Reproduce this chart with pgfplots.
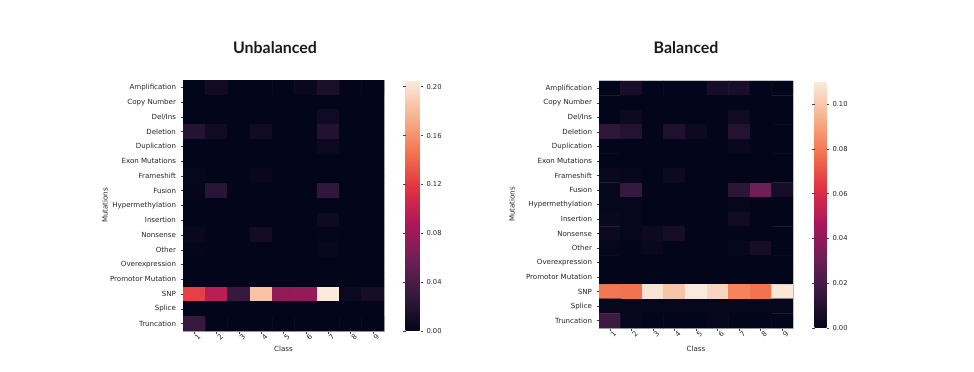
\documentclass[border=0pt]{standalone}
\usepackage{fontspec}
\setmainfont{DejaVu Sans}
\newfontfamily\titlefont{Lato}
\usepackage{pgfplots}
\pgfplotsset{compat=1.18}

\pgfplotsset{
  colormap={rocket}{rgb255=(3,5,26) rgb255=(53,25,62) rgb255=(112,31,87) rgb255=(173,23,89) rgb255=(225,51,66) rgb255=(243,118,81) rgb255=(246,180,143) rgb255=(250,235,221)},
  hm/.style={
    scale only axis,
    anchor=south west,
    y dir=reverse,
    xmin=-0.5, xmax=8.5, ymin=-0.5, ymax=16.5,
    xtick={0,...,8}, xticklabels={1,2,3,4,5,6,7,8,9},
    ytick={0,...,16},
    yticklabels={Amplification,Copy Number,Del/Ins,Deletion,Duplication,Exon Mutations,Frameshift,Fusion,Hypermethylation,Insertion,Nonsense,Other,Overexpression,Promotor Mutation,SNP,Splice,Truncation},
    tick align=outside, major tick length=2.5bp,
    tick style={black!75, line width=0.5bp},
    xtick pos=bottom, ytick pos=left,
    axis line style={black!25, line width=0.6bp},
    ticklabel style={font=\fontsize{7.1}{8}\selectfont, text=black!85},
    yticklabel style={xshift=-1bp},
    xticklabel style={rotate=45, anchor=center, yshift=-5bp},
    label style={font=\fontsize{7.1}{8}\selectfont, text=black!85},
    xlabel={Class}, ylabel={Mutations},
    colormap name=rocket,
    point meta min=0,
  },
}

\begin{document}
\begin{tikzpicture}
\path[use as bounding box] (0,0) rectangle (974bp,372bp);

% Unbalanced
\begin{axis}[hm,
  at={(183bp,41bp)}, width=201bp, height=251bp,
  point meta max=0.2055,
  xlabel style={at={(axis description cs:0.5,0)}, anchor=center, yshift=-18bp},
  ylabel style={at={(axis description cs:-0.388,0.5)}, anchor=center, rotate=0},
  colorbar,
  colorbar style={
    at={(parent axis.north east)}, anchor=north west, xshift=13bp,
    scale only axis, width=15bp,
    ytick={0,0.04,0.08,0.12,0.16,0.20},
    yticklabels={0.00,0.04,0.08,0.12,0.16,0.20},
    axis line style={draw=none},
    tick align=outside, major tick length=2.5bp,
    tick style={black!75, line width=0.5bp},
    ticklabel style={font=\fontsize{6.8}{8}\selectfont, text=black!85},
  },
]
\addplot[matrix plot*, mesh/cols=9, point meta=explicit] table[row sep=\\, meta=z] {
x y z\\
0 0 0\\ 1 0 0.008\\ 2 0 0\\ 3 0 0\\ 4 0 0\\ 5 0 0.004\\ 6 0 0.014\\ 7 0 0\\ 8 0 0\\
0 1 0\\ 1 1 0\\ 2 1 0\\ 3 1 0\\ 4 1 0\\ 5 1 0\\ 6 1 0\\ 7 1 0\\ 8 1 0\\
0 2 0\\ 1 2 0\\ 2 2 0\\ 3 2 0\\ 4 2 0\\ 5 2 0\\ 6 2 0.008\\ 7 2 0\\ 8 2 0\\
0 3 0.020\\ 1 3 0.009\\ 2 3 0\\ 3 3 0.009\\ 4 3 0\\ 5 3 0\\ 6 3 0.018\\ 7 3 0\\ 8 3 0\\
0 4 0\\ 1 4 0\\ 2 4 0\\ 3 4 0\\ 4 4 0\\ 5 4 0\\ 6 4 0.005\\ 7 4 0\\ 8 4 0\\
0 5 0\\ 1 5 0\\ 2 5 0\\ 3 5 0\\ 4 5 0\\ 5 5 0\\ 6 5 0\\ 7 5 0\\ 8 5 0\\
0 6 0.002\\ 1 6 0\\ 2 6 0\\ 3 6 0.003\\ 4 6 0\\ 5 6 0\\ 6 6 0\\ 7 6 0\\ 8 6 0\\
0 7 0.001\\ 1 7 0.022\\ 2 7 0\\ 3 7 0\\ 4 7 0\\ 5 7 0\\ 6 7 0.027\\ 7 7 0\\ 8 7 0\\
0 8 0\\ 1 8 0\\ 2 8 0\\ 3 8 0\\ 4 8 0\\ 5 8 0\\ 6 8 0\\ 7 8 0\\ 8 8 0\\
0 9 0\\ 1 9 0\\ 2 9 0\\ 3 9 0\\ 4 9 0\\ 5 9 0\\ 6 9 0.007\\ 7 9 0\\ 8 9 0\\
0 10 0.004\\ 1 10 0\\ 2 10 0\\ 3 10 0.010\\ 4 10 0\\ 5 10 0\\ 6 10 0.001\\ 7 10 0\\ 8 10 0\\
0 11 0.001\\ 1 11 0\\ 2 11 0\\ 3 11 0\\ 4 11 0\\ 5 11 0\\ 6 11 0.003\\ 7 11 0\\ 8 11 0\\
0 12 0\\ 1 12 0\\ 2 12 0\\ 3 12 0\\ 4 12 0\\ 5 12 0\\ 6 12 0\\ 7 12 0\\ 8 12 0\\
0 13 0\\ 1 13 0\\ 2 13 0\\ 3 13 0\\ 4 13 0\\ 5 13 0\\ 6 13 0\\ 7 13 0\\ 8 13 0\\
0 14 0.123\\ 1 14 0.095\\ 2 14 0.030\\ 3 14 0.184\\ 4 14 0.074\\ 5 14 0.076\\ 6 14 0.2055\\ 7 14 0.005\\ 8 14 0.012\\
0 15 0\\ 1 15 0\\ 2 15 0\\ 3 15 0\\ 4 15 0\\ 5 15 0\\ 6 15 0\\ 7 15 0\\ 8 15 0\\
0 16 0.030\\ 1 16 0\\ 2 16 0\\ 3 16 0\\ 4 16 0\\ 5 16 0\\ 6 16 0\\ 7 16 0\\ 8 16 0\\
};
\end{axis}

% Balanced
\begin{axis}[hm,
  at={(599bp,44bp)}, width=194bp, height=247bp,
  point meta max=0.1103,
  xlabel style={at={(axis description cs:0.5,0)}, anchor=center, yshift=-21bp},
  ylabel style={at={(axis description cs:-0.448,0.5)}, anchor=center, rotate=0},
  colorbar,
  colorbar style={
    at={(parent axis.north east)}, anchor=north west, xshift=13bp,
    scale only axis, width=12bp,
    ytick={0,0.02,0.04,0.06,0.08,0.10},
    yticklabels={0.00,0.02,0.04,0.06,0.08,0.10},
    axis line style={draw=none},
    tick align=outside, major tick length=2.5bp,
    tick style={black!75, line width=0.5bp},
    ticklabel style={font=\fontsize{6.8}{8}\selectfont, text=black!85},
  },
]
\addplot[matrix plot*, mesh/cols=9, point meta=explicit] table[row sep=\\, meta=z] {
x y z\\
0 0 0\\ 1 0 0.007\\ 2 0 0\\ 3 0 0\\ 4 0 0\\ 5 0 0.006\\ 6 0 0.007\\ 7 0 0\\ 8 0 0\\
0 1 0\\ 1 1 0\\ 2 1 0\\ 3 1 0\\ 4 1 0\\ 5 1 0\\ 6 1 0\\ 7 1 0\\ 8 1 0\\
0 2 0\\ 1 2 0.003\\ 2 2 0\\ 3 2 0\\ 4 2 0\\ 5 2 0\\ 6 2 0.004\\ 7 2 0\\ 8 2 0\\
0 3 0.014\\ 1 3 0.010\\ 2 3 0\\ 3 3 0.009\\ 4 3 0.003\\ 5 3 0\\ 6 3 0.010\\ 7 3 0\\ 8 3 0\\
0 4 0\\ 1 4 0\\ 2 4 0\\ 3 4 0\\ 4 4 0\\ 5 4 0\\ 6 4 0.002\\ 7 4 0\\ 8 4 0\\
0 5 0\\ 1 5 0\\ 2 5 0\\ 3 5 0\\ 4 5 0\\ 5 5 0\\ 6 5 0\\ 7 5 0\\ 8 5 0\\
0 6 0.002\\ 1 6 0.001\\ 2 6 0\\ 3 6 0.003\\ 4 6 0\\ 5 6 0\\ 6 6 0\\ 7 6 0\\ 8 6 0\\
0 7 0.001\\ 1 7 0.016\\ 2 7 0\\ 3 7 0\\ 4 7 0\\ 5 7 0\\ 6 7 0.013\\ 7 7 0.031\\ 8 7 0.006\\
0 8 0.001\\ 1 8 0.001\\ 2 8 0\\ 3 8 0\\ 4 8 0\\ 5 8 0\\ 6 8 0.001\\ 7 8 0\\ 8 8 0\\
0 9 0.002\\ 1 9 0.001\\ 2 9 0\\ 3 9 0\\ 4 9 0\\ 5 9 0\\ 6 9 0.004\\ 7 9 0\\ 8 9 0\\
0 10 0.003\\ 1 10 0.001\\ 2 10 0.003\\ 3 10 0.006\\ 4 10 0\\ 5 10 0\\ 6 10 0\\ 7 10 0\\ 8 10 0\\
0 11 0.001\\ 1 11 0\\ 2 11 0.002\\ 3 11 0\\ 4 11 0\\ 5 11 0\\ 6 11 0.001\\ 7 11 0.006\\ 8 11 0\\
0 12 0\\ 1 12 0\\ 2 12 0\\ 3 12 0\\ 4 12 0\\ 5 12 0\\ 6 12 0\\ 7 12 0\\ 8 12 0\\
0 13 0\\ 1 13 0\\ 2 13 0\\ 3 13 0\\ 4 13 0\\ 5 13 0\\ 6 13 0\\ 7 13 0\\ 8 13 0\\
0 14 0.079\\ 1 14 0.078\\ 2 14 0.108\\ 3 14 0.099\\ 4 14 0.110\\ 5 14 0.104\\ 6 14 0.082\\ 7 14 0.078\\ 8 14 0.109\\
0 15 0.001\\ 1 15 0.001\\ 2 15 0.001\\ 3 15 0.001\\ 4 15 0.001\\ 5 15 0.001\\ 6 15 0.001\\ 7 15 0.001\\ 8 15 0.001\\
0 16 0.018\\ 1 16 0.001\\ 2 16 0\\ 3 16 0\\ 4 16 0\\ 5 16 0.001\\ 6 16 0\\ 7 16 0\\ 8 16 0\\
};
\end{axis}

\node[font=\titlefont\bfseries\fontsize{16}{18}\selectfont, text=black!90] at (275bp,324bp) {Unbalanced};
\node[font=\titlefont\bfseries\fontsize{16}{18}\selectfont, text=black!90] at (686bp,324bp) {Balanced};
\end{tikzpicture}
\end{document}
